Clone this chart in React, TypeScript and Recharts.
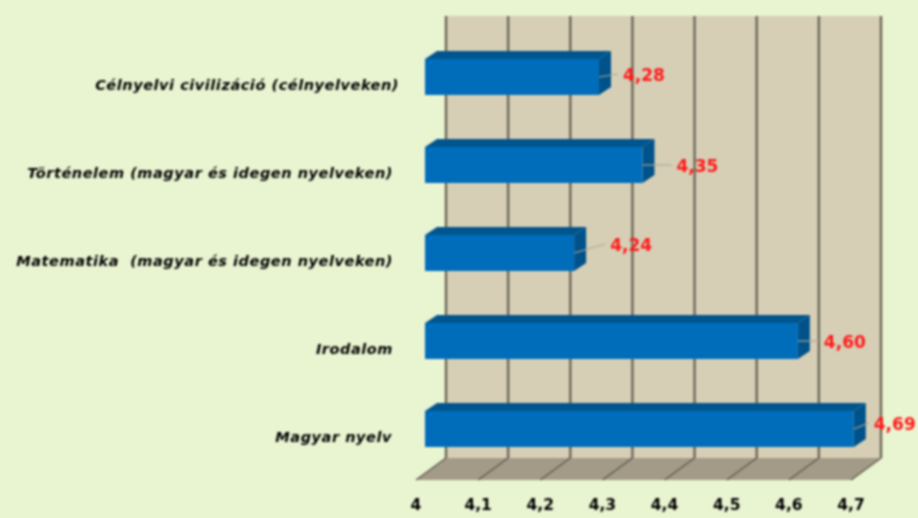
import { Bar, BarChart, LabelList, ReferenceArea, XAxis, YAxis } from "recharts";

const categories = [
  "Célnyelvi civilizáció (célnyelveken)",
  "Történelem (magyar és idegen nyelveken)",
  "Matematika  (magyar és idegen nyelveken)",
  "Irodalom",
  "Magyar nyelv",
];
const scores = [4.28, 4.35, 4.24, 4.6, 4.69];
const xTicks = [4, 4.1, 4.2, 4.3, 4.4, 4.5, 4.6, 4.7];

// where each value label sits relative to the end of its bar
const labelDx = [24, 34, 36, 26, 20];
const labelDy = [-2, 1, -8, 1, -5];
const tickEndX = [399, 393, 393, 393, 392];

const data = categories.map((name, i) => ({ name, score: scores[i] }));
const comma = (n: number) => n.toFixed(2).replace(".", ",");

const WALL_DX = 21;
const FRONT_DX = -9;

/* ============ back wall and floor ============ */

function Room({ x, y, width, height }: any) {
  const top = y - 17;
  const back = y + height - 15;
  const front = y + height + 7;
  return (
    <g>
      <rect x={x + WALL_DX} y={top} width={width} height={back - top} fill="#d6cfb6" />
      <polygon
        points={`${x + WALL_DX},${back} ${x + width + WALL_DX},${back} ${x + width + FRONT_DX},${front} ${x + FRONT_DX},${front}`}
        fill="#a39b88"
      />
    </g>
  );
}

function GridLine({ x, y, height }: any) {
  const top = y - 17;
  const back = y + height - 15;
  const front = y + height + 7;
  return (
    <g fill="none">
      <line x1={x + WALL_DX} y1={top} x2={x + WALL_DX} y2={back} stroke="#6b6657" strokeWidth={2.4} />
      <line x1={x + WALL_DX} y1={back} x2={x + FRONT_DX} y2={front} stroke="#5f5a4d" strokeWidth={1.5} />
    </g>
  );
}

/* ============ 3D bar ============ */

function Bar3D({ x, y, width, height }: any) {
  const dx = 12;
  const dy = 8;
  const r = x + width;
  return (
    <g>
      <polygon
        points={`${x},${y} ${x + dx},${y - dy} ${r + dx},${y - dy} ${r},${y}`}
        fill="#00558f"
      />
      <polygon
        points={`${r},${y} ${r + dx},${y - dy} ${r + dx},${y + height - dy} ${r},${y + height}`}
        fill="#00528a"
      />
      <rect x={x} y={y} width={width} height={height} fill="#006dbb" />
    </g>
  );
}

function ValueLabel({ x, y, width, height, index, value }: any) {
  const r = x + width;
  const cy = y + height / 2;
  const lx = r + labelDx[index];
  const ly = cy + labelDy[index];
  return (
    <g>
      <line x1={r} y1={cy} x2={lx - 5} y2={ly - 1} stroke="#a8a99a" strokeWidth={1.2} />
      <text x={lx} y={ly + 6} fill="#ff1a1a" fontSize={17} fontWeight="bold" fontFamily="DejaVu Sans">
        {comma(value)}
      </text>
    </g>
  );
}

function CategoryTick({ y, index, payload }: any) {
  return (
    <text
      x={tickEndX[index]}
      y={y + 13}
      textAnchor="end"
      fill="#000"
      fontSize={14.5}
      letterSpacing={0.55}
      fontStyle="italic"
      fontWeight="bold"
      fontFamily="DejaVu Sans"
      style={{ whiteSpace: "pre" }}
    >
      {payload.value}
    </text>
  );
}

function ValueTick({ x, y, payload }: any) {
  return (
    <text
      x={x + FRONT_DX}
      y={y + 29}
      textAnchor="middle"
      fill="#000"
      fontSize={15.5}
      fontWeight="bold"
      fontFamily="DejaVu Sans"
    >
      {String(payload.value).replace(".", ",")}
    </text>
  );
}

export default function App() {
  return (
    <div
      style={{
        position: "absolute",
        left: 0,
        top: 0,
        width: 918,
        height: 518,
        overflow: "hidden",
        background: "#e9f4d1",
      }}
    >
      <div style={{ filter: "blur(0.8px)" }}>
        <BarChart
          layout="vertical"
          width={918}
          height={518}
          data={data}
          margin={{ top: 33, right: 58, bottom: 0, left: 0 }}
          barCategoryGap={26}
        >
          <XAxis
            type="number"
            domain={[4, 4.7]}
            ticks={xTicks}
            interval={0}
            height={45}
            axisLine={false}
            tickLine={false}
            tick={<ValueTick />}
          />
          <YAxis
            type="category"
            dataKey="name"
            width={425}
            interval={0}
            axisLine={false}
            tickLine={false}
            tick={<CategoryTick />}
          />
          <ReferenceArea x1={4} x2={4.7} shape={<Room />} ifOverflow="visible" />
          {xTicks.map((t) => (
            <ReferenceArea key={t} x1={t} x2={t} ifOverflow="visible" shape={<GridLine />} />
          ))}
          <Bar dataKey="score" barSize={36} shape={<Bar3D />} isAnimationActive={false}>
            <LabelList dataKey="score" content={<ValueLabel />} />
          </Bar>
        </BarChart>
      </div>
    </div>
  );
}
